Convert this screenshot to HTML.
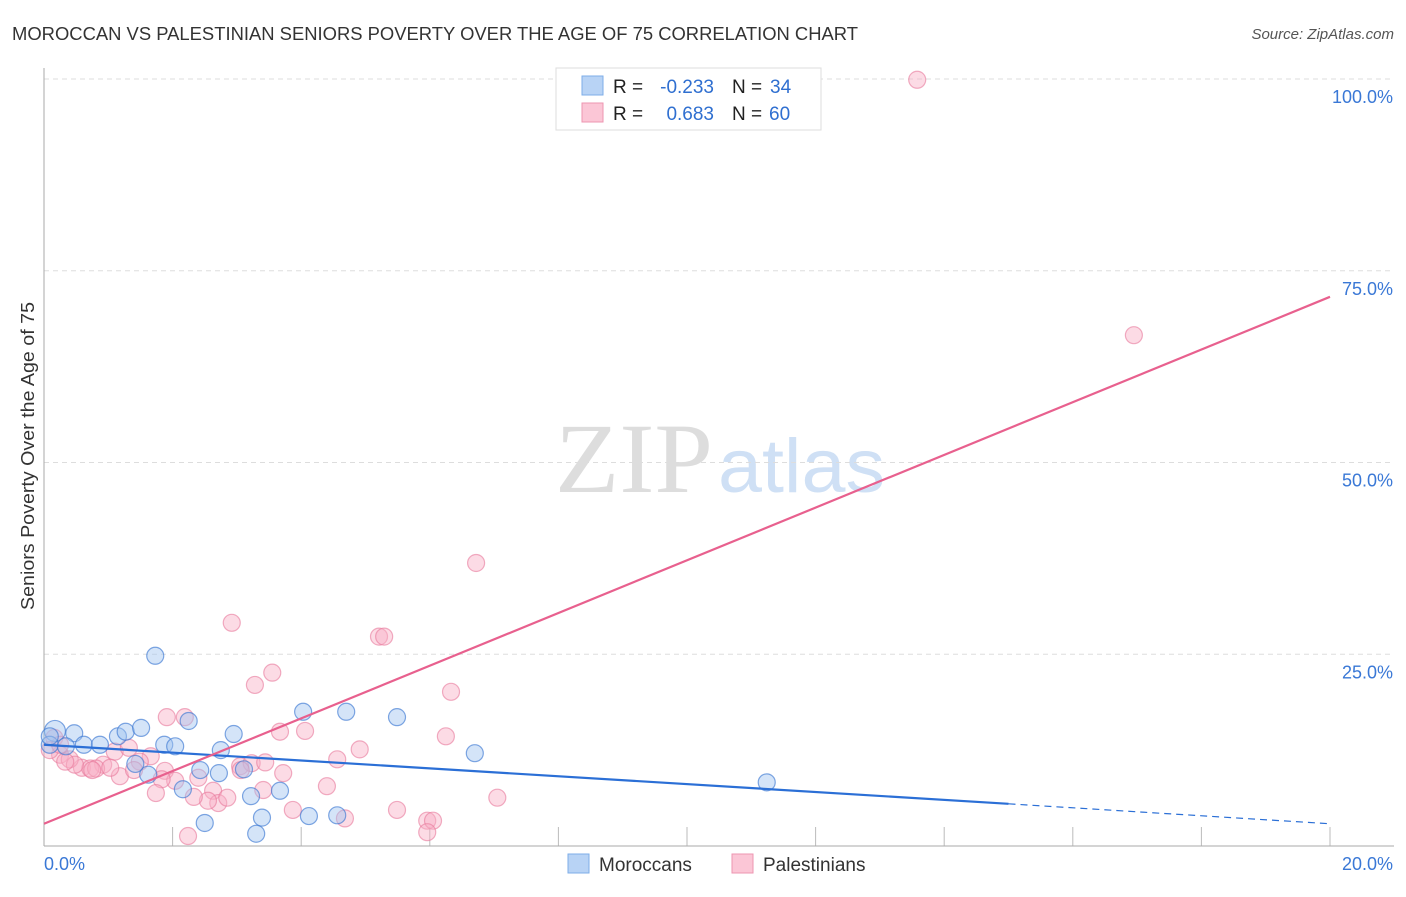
<!DOCTYPE html>
<html><head><meta charset="utf-8"><style>
body{margin:0;background:#fff;font-family:"Liberation Sans",sans-serif}
</style></head><body>
<svg id="c" width="1406" height="892" xmlns="http://www.w3.org/2000/svg">
<text x="12" y="40" font-size="18" fill="#333" textLength="846" lengthAdjust="spacingAndGlyphs">MOROCCAN VS PALESTINIAN SENIORS POVERTY OVER THE AGE OF 75 CORRELATION CHART</text>
<text x="1394" y="39" font-size="15" font-style="italic" fill="#555" text-anchor="end">Source: ZipAtlas.com</text>
<text x="555" y="492" font-size="100" font-family="Liberation Serif" fill="#ddd" textLength="158" lengthAdjust="spacingAndGlyphs">ZIP</text>
<text x="718" y="492" font-size="76" fill="#cfe0f5" textLength="167" lengthAdjust="spacingAndGlyphs">atlas</text>
<g id="grid"></g>
<g id="pts"></g>
<g id="lines"></g>
<text transform="translate(34,456) rotate(-90)" font-size="18" fill="#333" text-anchor="middle" textLength="308" lengthAdjust="spacingAndGlyphs">Seniors Poverty Over the Age of 75</text>
<g>
<rect x="556" y="68" width="265" height="62" fill="#fff" stroke="#ddd"/>
<rect x="582" y="76" width="21" height="19" fill="#b8d3f5" stroke="#7eaee8"/>
<rect x="582" y="103" width="21" height="19" fill="#fbc6d6" stroke="#ee95b0"/>
<text x="613" y="93" font-size="19" fill="#222">R =</text>
<text x="714" y="93" font-size="19" fill="#2f6fd0" text-anchor="end">-0.233</text>
<text x="732" y="93" font-size="19" fill="#222">N =</text>
<text x="770" y="93" font-size="19" fill="#2f6fd0">34</text>
<text x="613" y="120" font-size="19" fill="#222">R =</text>
<text x="714" y="120" font-size="19" fill="#2f6fd0" text-anchor="end">0.683</text>
<text x="732" y="120" font-size="19" fill="#222">N =</text>
<text x="769" y="120" font-size="19" fill="#2f6fd0">60</text>
</g>
<g>
<rect x="568" y="854" width="21" height="19" fill="#b8d3f5" stroke="#7eaee8"/>
<text x="599" y="871" font-size="19" fill="#333">Moroccans</text>
<rect x="732" y="854" width="21" height="19" fill="#fbc6d6" stroke="#ee95b0"/>
<text x="763" y="871" font-size="19" fill="#333">Palestinians</text>
</g>
</svg>
<script>
const yTicks=[25,50,75,100];
const yTickLabels=["25.0%","50.0%","75.0%","100.0%"];
const xTicks=[2,4,6,8,10,12,14,16,18,20];
const moroccansX=[0.17,0.09,0.47,0.34,0.62,0.87,1.15,1.27,1.51,1.73,1.87,2.04,2.25,1.62,1.42,2.16,2.50,2.43,2.75,2.72,2.95,3.11,3.22,3.39,3.30,3.67,4.03,4.12,4.70,4.56,5.49,6.70,11.24,0.09];
const moroccansY=[15.0,13.2,14.7,13.0,13.2,13.2,14.3,14.9,15.4,24.8,13.2,13.0,16.3,9.3,10.7,7.4,3.0,9.9,12.5,9.5,14.6,10.0,6.5,3.7,1.6,7.2,17.5,3.9,17.5,4.0,16.8,12.1,8.3,14.3];
const palX=[13.58,16.95,6.72,2.92,5.21,5.29,3.55,3.28,6.33,1.91,2.19,4.06,3.67,6.25,4.91,4.56,1.66,1.49,1.10,1.32,0.92,0.59,0.72,0.81,0.75,0.25,0.40,0.16,0.09,1.18,1.88,2.04,1.83,2.40,2.63,2.71,2.55,2.33,2.85,3.05,3.23,3.44,3.72,3.87,3.41,4.40,4.68,5.49,5.96,6.05,5.96,7.05,2.24,0.25,0.48,1.40,1.74,3.06,1.03,0.33];
const palY=[99.9,66.6,36.9,29.1,27.3,27.3,22.6,21.0,20.1,16.8,16.8,15.0,14.9,14.3,12.6,11.3,11.7,11.0,12.3,12.8,10.6,10.2,10.1,10.1,9.9,11.9,11.3,14.1,12.5,9.1,9.8,8.5,8.7,8.9,7.2,5.6,5.9,6.4,6.3,10.4,10.8,10.9,9.5,4.7,7.3,7.8,3.6,4.7,3.3,3.3,1.8,6.3,1.3,13.2,10.6,9.9,6.9,9.9,10.2,11.0];
const blueLine=[[0,13.2],[15,5.5],[20,2.9]];
const pinkLine=[[0,2.9],[20,71.6]];
const NS="http://www.w3.org/2000/svg";
const X=v=>44+v*64.3, Y=v=>846-v*7.67;
function mk(p,t,a){const e=document.createElementNS(NS,t);for(const k in a)e.setAttribute(k,a[k]);p.appendChild(e);return e;}
const g=document.getElementById('grid');
yTicks.forEach((t,i)=>{
 const l=mk(g,'line',{x1:44,x2:1394,y1:Y(t),y2:Y(t),stroke:'#ddd','stroke-dasharray':'5,4'});
 
 
 const tx=mk(g,'text',{x:1393,y:Y(t)+24,'font-size':18,fill:'#3a78d6','text-anchor':'end'});
 tx.textContent=yTickLabels[i];
 
 
});
xTicks.forEach(t=>{
 const l=mk(g,'line',{x1:X(t),x2:X(t),y1:827,y2:846,stroke:'#bbb'});
 
 
});
let a=mk(g,'line',{x1:44,x2:44,y1:68,y2:846,stroke:'#aaa'});


a=mk(g,'line',{x1:44,x2:1394,y1:846,y2:846,stroke:'#aaa'});


let t0=mk(g,'text',{x:44,y:870,'font-size':18,fill:'#3a78d6'});t0.textContent='0.0%';


t0=mk(g,'text',{x:1393,y:870,'font-size':18,fill:'#3a78d6','text-anchor':'end'});t0.textContent='20.0%';


const p=document.getElementById('pts');
palX.forEach((x,i)=>{
 const c=mk(p,'circle',{cx:X(x),cy:Y(palY[i]),r:8.5,fill:'rgba(249,176,198,0.45)',stroke:'rgba(232,120,155,0.6)','stroke-width':1.2});
 
 
});
moroccansX.forEach((x,i)=>{
 const c=mk(p,'circle',{cx:X(x),cy:Y(moroccansY[i]),r:i==0?10.5:8.5,fill:'rgba(160,196,240,0.45)',stroke:'rgba(60,120,210,0.65)','stroke-width':1.2});
 
 
});
const L=document.getElementById('lines');
let ln=mk(L,'line',{x1:X(blueLine[0][0]),y1:Y(blueLine[0][1]),x2:X(blueLine[1][0]),y2:Y(blueLine[1][1]),stroke:'#2b6fd6','stroke-width':2.2});


ln=mk(L,'line',{x1:X(blueLine[1][0]),y1:Y(blueLine[1][1]),x2:X(blueLine[2][0]),y2:Y(blueLine[2][1]),stroke:'#2b6fd6','stroke-width':1.2,'stroke-dasharray':'7,5'});


ln=mk(L,'line',{x1:X(pinkLine[0][0]),y1:Y(pinkLine[0][1]),x2:X(pinkLine[1][0]),y2:Y(pinkLine[1][1]),stroke:'#e8608e','stroke-width':2.2});


</script>
</body></html>
